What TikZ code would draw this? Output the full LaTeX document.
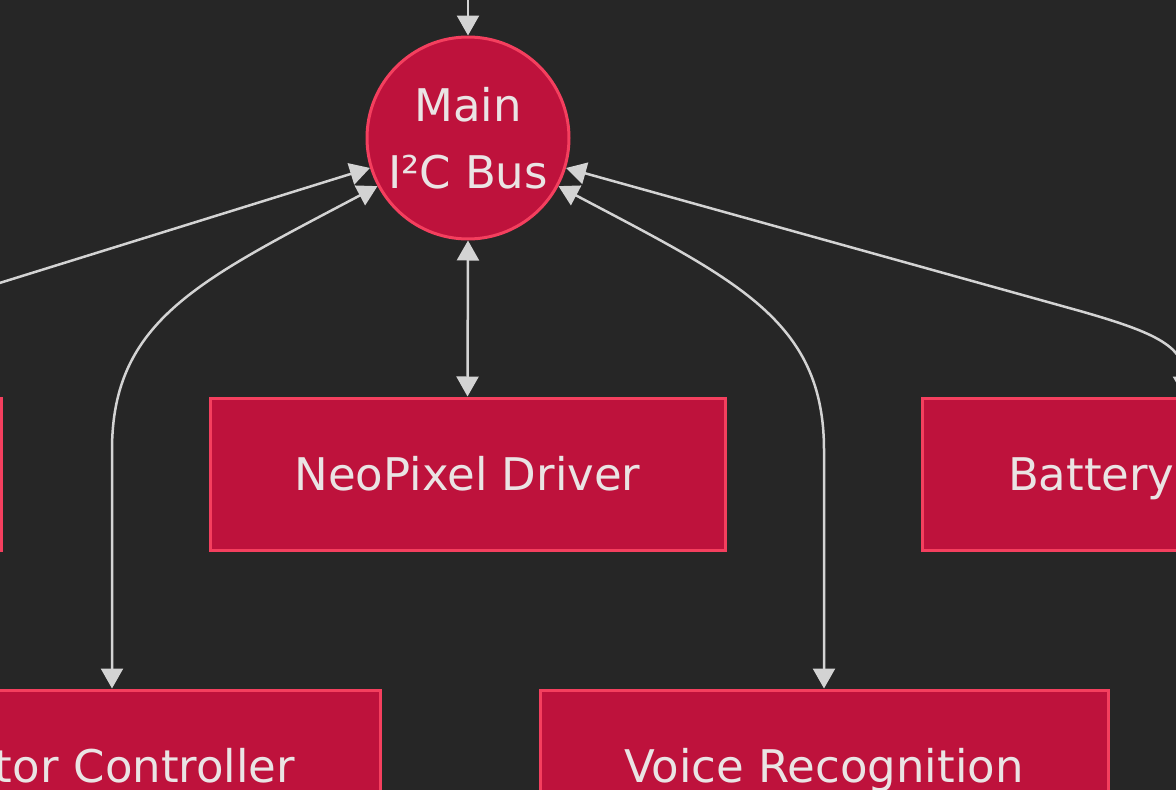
\documentclass[tikz,border=0pt]{standalone}
\usepackage{fontspec}
\setmainfont{DejaVu Sans}
\usetikzlibrary{arrows.meta}
\definecolor{bgc}{RGB}{38,38,38}
\definecolor{nodefill}{RGB}{190,18,60}
\definecolor{nodeline}{RGB}{244,63,94}
\definecolor{txtc}{RGB}{234,228,228}
\definecolor{edgec}{RGB}{211,211,211}
\tikzset{
  box/.style={rectangle, draw=nodeline, fill=nodefill, line width=3pt, text=txtc,
    font=\fontsize{45}{54}\selectfont, minimum height=152pt, text height=33pt, text depth=0pt, inner sep=0pt},
  busnode/.style={circle, draw=nodeline, fill=nodefill, line width=3pt, text=txtc,
    font=\fontsize{45}{67}\selectfont, align=center, minimum size=202pt, inner sep=0pt},
  edge/.style={draw=edgec, line width=2.5pt},
  tip/.tip={Triangle[length=20pt,width=22pt,fill=edgec]}
}
\begin{document}
\begin{tikzpicture}[x=1pt,y=-1pt]
\useasboundingbox (0,0) rectangle (1176,790);
\fill[bgc] (0,0) rectangle (1176,790);
\clip (0,0) rectangle (1176,790);

\node[busnode] (bus) at (468,138) {Main\\I²C Bus};
\node[box, minimum width=515pt] (neo) at (467.5,474) {NeoPixel Driver};
\node[box, text width=352pt, align=left, inner xsep=86pt] (bat) at (1184,474) {Battery};
\node[box, minimum width=500pt] (left) at (-249,474) {};
\node[box, text width=366pt, align=right, inner xsep=85pt] (motor) at (112,766) {tor Controller};
\node[box, minimum width=568pt] (voice) at (824,766) {Voice Recognition};

\coordinate (topsrc) at (468,-30);
\coordinate (leftsrc) at (-60,301.5);

\draw[edge, -tip] (topsrc) -- (bus.north);
\draw[edge, tip-tip] (bus.south) -- (neo.north);
\draw[edge, -tip] (leftsrc) -- (bus.197);
\draw[edge, tip-tip] (bus.208) .. controls (200,280) and (112,320) .. (112,450) -- (motor.north);
\draw[edge, tip-tip] (bus.332) .. controls (736,280) and (824,320) .. (824,450) -- (voice.north);
\draw[edge, tip-tip] (bus.343) -- (1080,311) .. controls (1150,331) and (1184,345) .. (1184,375) -- (bat.north);
\end{tikzpicture}
\end{document}
